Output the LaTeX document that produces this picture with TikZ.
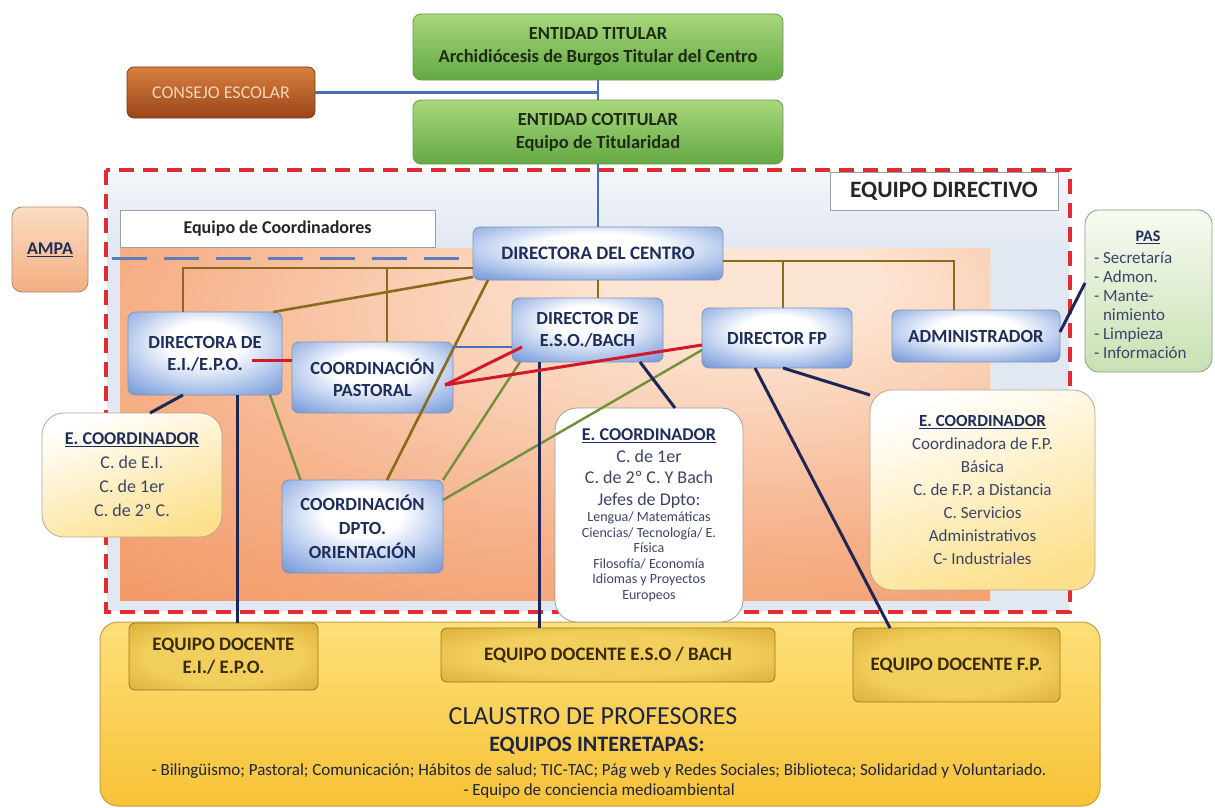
\documentclass[tikz,border=0pt]{standalone}
\usepackage{fontspec}
\setmainfont{Carlito}
\usetikzlibrary{calc}
\frenchspacing
\definecolor{navy}{HTML}{1F2D5A}
\definecolor{txgrey}{HTML}{3C4466}
\definecolor{bxblue}{HTML}{4A76C2}
\definecolor{bxmid}{HTML}{9DB7E6}
\definecolor{bxedge}{HTML}{7F95B8}
\definecolor{grT}{HTML}{A9D77C}
\definecolor{grB}{HTML}{63A943}
\definecolor{grE}{HTML}{6E9B4E}
\definecolor{grText}{HTML}{1E2B17}
\definecolor{consT}{HTML}{D9803F}
\definecolor{consB}{HTML}{9A4519}
\definecolor{consE}{HTML}{7A3A18}
\definecolor{consText}{HTML}{F5D5B8}
\definecolor{ampaT}{HTML}{FCDCC2}
\definecolor{ampaB}{HTML}{F3AE82}
\definecolor{ampaE}{HTML}{A88C7C}
\definecolor{pasT}{HTML}{F7FBF2}
\definecolor{pasB}{HTML}{C8E1B2}
\definecolor{pasE}{HTML}{8E9C88}
\definecolor{ylwB}{HTML}{FCE08C}
\definecolor{coordE}{HTML}{B8A890}
\definecolor{clT}{HTML}{FDE07A}
\definecolor{clB}{HTML}{F7C236}
\definecolor{clE}{HTML}{C9A040}
\definecolor{clText}{HTML}{1F2440}
\definecolor{goldIn}{HTML}{F2CF5C}
\definecolor{goldOut}{HTML}{C8931C}
\definecolor{goldE}{HTML}{9C7A25}
\definecolor{goldText}{HTML}{3A2A0C}
\definecolor{brownln}{HTML}{8A6A1C}
\definecolor{greenln}{HTML}{71903A}
\definecolor{redln}{HTML}{D4182A}
\definecolor{navyln}{HTML}{1E2656}
\definecolor{blueln}{HTML}{4B6EB4}
\definecolor{panel}{HTML}{E1E8F2}
\definecolor{redd}{HTML}{E42B33}
\definecolor{orL}{HTML}{FCE4D2}
\definecolor{orM}{HTML}{F6B088}
\definecolor{orD}{HTML}{EE8A4E}
\definecolor{lblE}{HTML}{9AA0A8}
\pgfdeclareradialshading{bglow}{\pgfpoint{0bp}{8bp}}{color(0bp)=(white); color(12bp)=(white); color(30bp)=(bxmid); color(46bp)=(bxblue); color(80bp)=(bxblue)}
\pgfdeclareradialshading{orglow}{\pgfpoint{12bp}{22bp}}{color(0bp)=(orL); color(8bp)=(orL); color(32bp)=(orM); color(58bp)=(orD); color(90bp)=(orD)}
\pgfdeclareradialshading{goldglow}{\pgfpoint{0bp}{0bp}}{color(0bp)=(goldIn); color(20bp)=(goldIn); color(50bp)=(goldOut); color(80bp)=(goldOut)}
\tikzset{
  base/.style={align=center, inner sep=0pt, outer sep=0pt},
  bluebox/.style={base, rounded corners=7pt, draw=bxedge, line width=0.8pt, shading=bglow, text=navy, font=\fontsize{18.5}{22}\selectfont\bfseries},
  greenbox/.style={base, rounded corners=8pt, draw=grE, line width=0.8pt, top color=grT, bottom color=grB, text=grText, font=\fontsize{18.5}{23}\selectfont\bfseries},
  consbox/.style={base, rounded corners=7pt, draw=consE, line width=0.8pt, top color=consT, bottom color=consB, text=consText, font=\fontsize{18}{22}\selectfont},
  ampabox/.style={base, rounded corners=10pt, draw=ampaE, line width=0.8pt, top color=ampaT, bottom color=ampaB, text=navy, font=\fontsize{18}{22}\selectfont\bfseries},
  pasbox/.style={base, rounded corners=14pt, draw=pasE, line width=0.8pt, top color=pasT, bottom color=pasB},
  ycoord/.style={base, rounded corners=22pt, draw=coordE, line width=0.8pt, top color=white, bottom color=ylwB, shading angle=20, text=txgrey},
  wcoord/.style={base, rounded corners=22pt, draw=lblE, line width=0.8pt, fill=white, text=txgrey},
  goldbox/.style={base, rounded corners=6pt, draw=goldE, line width=0.8pt, shading=goldglow, text=goldText, font=\fontsize{19}{23}\selectfont\bfseries},
  claustrobox/.style={base, rounded corners=18pt, draw=clE, line width=1pt, top color=clT, bottom color=clB},
  lblbox/.style={base, draw=lblE, line width=0.8pt, fill=white, text=black!85},
  brownl/.style={draw=brownln, line width=2.6pt},
  greenl/.style={draw=greenln, line width=2.4pt},
  redl/.style={draw=redln, line width=3pt},
  navyl/.style={draw=navyln, line width=3pt},
  bluel/.style={draw=blueln, line width=2.6pt},
  bluedash/.style={draw=blueln!90, line width=3pt, dash pattern=on 35pt off 17pt},
  reddash/.style={draw=redd, line width=3.6pt, dash pattern=on 15pt off 9pt}
}
\begin{document}
\begin{tikzpicture}[x=1pt,y=-1pt]
\useasboundingbox[fill=white] (0,0) rectangle (1215,808);

% panels
\fill[panel] (107,171) rectangle (1069,611);
\shade[top color=white!60!panel, bottom color=panel] (107,171) rectangle (1069,250);
\shade[shading=orglow] (120,248) rectangle (990,600);
\draw[reddash] (106,170) rectangle (1070,612);

% claustro
\node[claustrobox, minimum width=1000pt, minimum height=184pt] (cl) at (600,714) {};
\node[base, text=clText, font=\fontsize{26}{30}\selectfont] (clt) at (593,716) {CLAUSTRO DE PROFESORES};
\node[base, text=clText, font=\fontsize{22}{26}\selectfont\bfseries] (cli) at (597,746) {EQUIPOS INTERETAPAS:};
\node[base, text=clText, font=\fontsize{17}{19}\selectfont] (cll1) at (599,771) {- Bilingüismo; Pastoral; Comunicación; Hábitos de salud; TIC-TAC; Pág web y Redes Sociales; Biblioteca; Solidaridad y Voluntariado.};
\node[base, text=clText, font=\fontsize{17}{19}\selectfont] (cll2) at (599,791) {- Equipo de conciencia medioambiental};

% labels
\node[lblbox, minimum width=228pt, minimum height=38pt, font=\fontsize{23.5}{26}\selectfont\bfseries] (eqdir) at (944,191) {EQUIPO DIRECTIVO};
\node[lblbox, minimum width=315pt, minimum height=37pt, font=\fontsize{18}{22}\selectfont\bfseries] (eqco) at (277.5,228.5) {Equipo de Coordinadores};

% top boxes
\node[greenbox, minimum width=370pt, minimum height=66pt] (tit) at (598,47) {ENTIDAD TITULAR\\Archidiócesis de Burgos Titular del Centro};
\node[greenbox, minimum width=370pt, minimum height=64pt] (cotit) at (598,132) {ENTIDAD COTITULAR\\Equipo de Titularidad};
\node[consbox, minimum width=188pt, minimum height=51pt] (consejo) at (221,92.5) {CONSEJO ESCOLAR};
\node[ampabox, minimum width=76pt, minimum height=85pt] (ampa) at (50,249.5) {\underline{AMPA}};

% PAS
\node[pasbox, minimum width=127pt, minimum height=162pt] (pas) at (1148.5,291) {};
\node[base, text=navy, font=\fontsize{16}{19}\selectfont\bfseries] (pash) at (1148,237) {\underline{PAS}};
\node[base, anchor=west, align=left, text=txgrey, font=\fontsize{17}{19}\selectfont] (pasl) at (1094,305) {- Secretaría\\- Admon.\\- Mante-\\\hspace*{9pt}nimiento\\- Limpieza\\- Información};

% directive boxes
\node[bluebox, minimum width=250pt, minimum height=53pt, font=\fontsize{19}{22}\selectfont\bfseries] (dc) at (598,253.5) {DIRECTORA DEL CENTRO};
\node[bluebox, minimum width=154pt, minimum height=83pt] (dei) at (205,353.5) {DIRECTORA DE\\E.I./E.P.O.};
\node[bluebox, minimum width=161pt, minimum height=71pt] (past) at (372.5,377.5) {COORDINACIÓN\\PASTORAL};
\node[bluebox, minimum width=161pt, minimum height=93pt, font=\fontsize{18.5}{24}\selectfont\bfseries] (orient) at (362.5,526.5) {COORDINACIÓN\\DPTO.\\ORIENTACIÓN};
\node[bluebox, minimum width=151pt, minimum height=64pt] (eso) at (587.5,330) {DIRECTOR DE\\E.S.O./BACH};
\node[bluebox, minimum width=150pt, minimum height=60pt] (fp) at (777,338) {DIRECTOR FP};
\node[bluebox, minimum width=168pt, minimum height=52pt] (admin) at (976,336) {ADMINISTRADOR};

% coordination teams
\node[ycoord, minimum width=180pt, minimum height=124pt, font=\fontsize{18}{24}\selectfont] (ecl) at (132,475) {\textcolor{navy}{\textbf{\underline{E. COORDINADOR}}}\\C. de E.I.\\C. de 1er\\C. de 2º C.};
\node[wcoord, minimum width=188pt, minimum height=214pt, text width=186pt, align=flush center, font=\fontsize{18}{21.5}\selectfont] (ecm) at (649,515) {\textcolor{navy}{\textbf{\underline{E. COORDINADOR}}}\\C. de 1er\\C. de 2º C. Y Bach\\Jefes de Dpto:\par\vspace{1pt}{\fontsize{14}{15.5}\selectfont Lengua/ Matemáticas\\Ciencias/ Tecnología/ E.\\Física\\Filosofía/ Economía\\Idiomas y Proyectos\\Europeos\par}};
\node[ycoord, minimum width=225pt, minimum height=200pt, font=\fontsize{17}{23}\selectfont] (ecr) at (982.5,490) {\textcolor{navy}{\textbf{\underline{E. COORDINADOR}}}\\Coordinadora de F.P.\\Básica\\C. de F.P. a Distancia\\C. Servicios\\Administrativos\\C- Industriales};

% teaching teams
\node[goldbox, minimum width=189pt, minimum height=67pt] (ede) at (223.5,656.5) {EQUIPO DOCENTE\\E.I./ E.P.O.};
\node[goldbox, minimum width=334pt, minimum height=54pt] (edeso) at (608,655) {EQUIPO DOCENTE E.S.O / BACH};
\node[goldbox, minimum width=207pt, minimum height=74pt] (edfp) at (956.5,665) {EQUIPO DOCENTE F.P.};

% connectors: top
\draw[bluel] (consejo.east) -- (consejo.east -| tit.south);
\draw[bluel] (tit.south) -- (cotit.north);
\draw[bluel] (cotit.south) -- (dc.north);
\coordinate (ampaend) at (112,258);
\draw[bluedash] (ampaend) -- (ampaend -| dc.west);

% brown tree
\coordinate (bjl) at (183,268);
\coordinate (bjp) at (387,268);
\coordinate (bjr) at (954,261);
\coordinate (bjf) at (783,261);
\draw[brownl] (dei.north -| bjl) -- (bjl) -- (bjl -| dc.west);
\draw[brownl] (bjp) -- (bjp |- past.north);
\draw[brownl] (dc.east |- bjr) -- (bjr) -- (bjr |- admin.north);
\draw[brownl] (bjf) -- (bjf |- fp.north);
\draw[brownl] (dc.south) -- (dc.south |- eso.north);
\draw[brownl] ([yshift=3]dc.south west) -- ([xshift=-9]dei.north east);
\draw[brownl] ([xshift=-110]dc.south) -- ([xshift=24.5]orient.north);

% green
\draw[greenl] ([xshift=65]dei.south) -- ([xshift=-62]orient.north);
\draw[greenl] (orient.north east) -- ([xshift=8]eso.south west);
\draw[greenl] ([yshift=26.5]orient.east) -- ([yshift=-12]fp.west);

% blue
\draw[bluel] ([yshift=30.5]past.east) -- ([yshift=-17]eso.west);

% navy
\draw[navyl] ([xshift=-22]dei.south) -- ([xshift=18]ecl.north);
\draw[navyl] ([xshift=32]dei.south) -- ([xshift=13.5]ede.north);
\draw[navyl] ([xshift=-48.5]eso.south) -- ([xshift=-69]edeso.north);
\draw[navyl] ([xshift=52.5]eso.south) -- ([xshift=26]ecm.north);
\draw[navyl] ([xshift=-22]fp.south) -- ([xshift=-66.5]edfp.north);
\draw[navyl] ([xshift=6]fp.south) -- ([yshift=-5]ecr.north west);
\draw[navyl] ([yshift=4]admin.east) -- ([yshift=8]pas.west);

% red
\draw[redl] ([xshift=-30,yshift=-6.5]dei.east) -- ([yshift=17.5]past.west);
\draw[redl] ([xshift=-8,yshift=-7.5]past.east) -- ([xshift=10,yshift=-17]eso.west);
\draw[redl] ([xshift=-8,yshift=-7.5]past.east) -- ([yshift=-7]fp.west);
\end{tikzpicture}
\end{document}
